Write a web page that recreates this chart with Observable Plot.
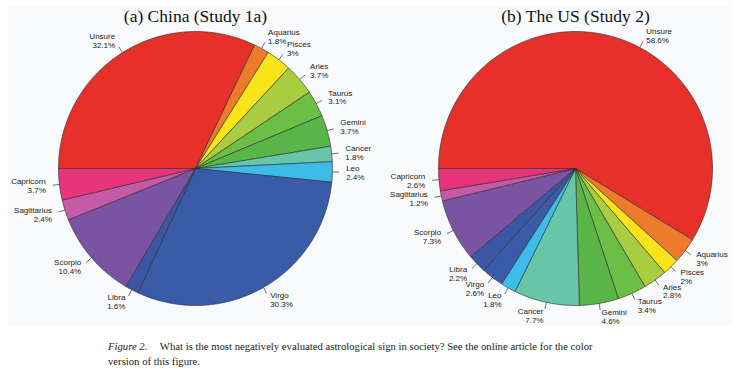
<!DOCTYPE html>
<html>
<head>
<meta charset="utf-8">
<script src="https://cdn.jsdelivr.net/npm/d3@7"></script>
<script src="https://cdn.jsdelivr.net/npm/@observablehq/plot@0.6"></script>
<style>
  body { margin: 0; background: #ffffff; width: 740px; height: 377px; overflow: hidden; }
  #panel { margin: 6px 8px 0 8px; width: 724px; height: 320px; background: #f9fafb; }
  #panel svg { overflow: hidden; display: block; }
  #caption { font-family: "Liberation Serif", "Times New Roman", serif; font-size: 10.7px; line-height: 15px; color: #1a1a1a; margin: 13px 0 0 108px; }
  #caption i { margin-right: 10px; }
</style>
</head>
<body>
<div id="panel"></div>
<div id="caption"><i>Figure 2.</i> What is the most negatively evaluated astrological sign in society? See the online article for the color<br>version of this figure.</div>
<script>
// ---- data ----
const signs = ["Unsure","Aquarius","Pisces","Aries","Taurus","Gemini","Cancer","Leo","Virgo","Libra","Scorpio","Sagittarius","Capricorn"];
const chinaPct = [32.1, 1.8, 3, 3.7, 3.1, 3.7, 1.8, 2.4, 30.3, 1.6, 10.4, 2.4, 3.7];
const usPct    = [58.6, 3, 2, 2.8, 3.4, 4.6, 7.7, 1.8, 2.6, 2.2, 7.3, 1.2, 2.6];
const signColors = ["#e8302a","#ee7a2c","#f8e519","#a9cd40","#6cbf46","#5ab548","#68c5a7","#3cbde9","#3a5ca8","#3b57a4","#7b53a3","#c55aa8","#e8347b"];
const titles = ["(a) China (Study 1a)", "(b) The US (Study 2)"];

// ---- layout (not data) ----
const W = 724, H = 320;
const R = 137;
const pies = [
  {cx: 187, cy: 162, values: chinaPct, title: titles[0], labelAngle: {}},
  // the US "Unsure" label sits off the slice midpoint in the original (degrees clockwise from 12 o'clock)
  {cx: 567, cy: 162, values: usPct, title: titles[1], labelAngle: {0: 28}}
];

const pts = [], labels = [], heads = [];
pies.forEach((p, pi) => {
  const total = d3.sum(p.values);
  let cum = 0;
  heads.push({x: p.cx, y: 10, text: p.title});
  p.values.forEach((v, i) => {
    const a0 = -Math.PI / 2 + cum / total * 2 * Math.PI;
    cum += v;
    const a1 = -Math.PI / 2 + cum / total * 2 * Math.PI;
    const id = pi + "-" + i;
    const n = Math.max(2, Math.ceil((a1 - a0) / (2 * Math.PI) * 240));
    pts.push({id, sign: signs[i], x: p.cx, y: p.cy});
    for (let k = 0; k <= n; k++) {
      const a = a0 + (a1 - a0) * k / n;
      pts.push({id, sign: signs[i], x: p.cx + R * Math.sin(a), y: p.cy - R * Math.cos(a)});
    }
    pts.push({id, sign: signs[i], x: p.cx, y: p.cy});
    const m = (i in p.labelAngle) ? p.labelAngle[i] * Math.PI / 180 : (a0 + a1) / 2;
    const ux = Math.sin(m), uy = -Math.cos(m);
    labels.push({
      x1: p.cx + R * ux, y1: p.cy + R * uy,
      x2: p.cx + 1.05 * R * ux, y2: p.cy + 1.05 * R * uy,
      lx: p.cx + 1.1 * R * ux, ly: p.cy + 1.1 * R * uy,
      text: signs[i] + "\n" + v + "%",
      left: ux < 0
    });
  });
});

const labelFont = {fontFamily: "'Liberation Sans', Arial, Helvetica, sans-serif", fontSize: 8, fill: "#222", lineHeight: 1.12, lineAnchor: "middle"};

const chart = Plot.plot({
  width: W, height: H,
  margin: 0,
  x: {domain: [0, W], range: [0, W], axis: null},
  y: {domain: [0, H], range: [0, H], axis: null},
  color: {type: "ordinal", domain: signs, range: signColors},
  style: {background: "transparent", overflow: "hidden"},
  marks: [
    Plot.line(pts, {x: "x", y: "y", z: "id", fill: "sign", stroke: "#2b2b2b", strokeWidth: 0.6, strokeLinejoin: "round", curve: "linear"}),
    Plot.link(labels, {x1: "x1", y1: "y1", x2: "x2", y2: "y2", stroke: "#333", strokeWidth: 0.7}),
    Plot.text(labels.filter(d => d.left), {x: "lx", y: "ly", text: "text", textAnchor: "end", ...labelFont}),
    Plot.text(labels.filter(d => !d.left), {x: "lx", y: "ly", text: "text", textAnchor: "start", ...labelFont}),
    Plot.text(heads, {x: "x", y: "y", text: "text", fontFamily: "'Liberation Serif', 'Times New Roman', serif", fontSize: 17.5, fill: "#111", lineAnchor: "middle"})
  ]
});
document.getElementById("panel").appendChild(chart);
</script>
</body>
</html>
